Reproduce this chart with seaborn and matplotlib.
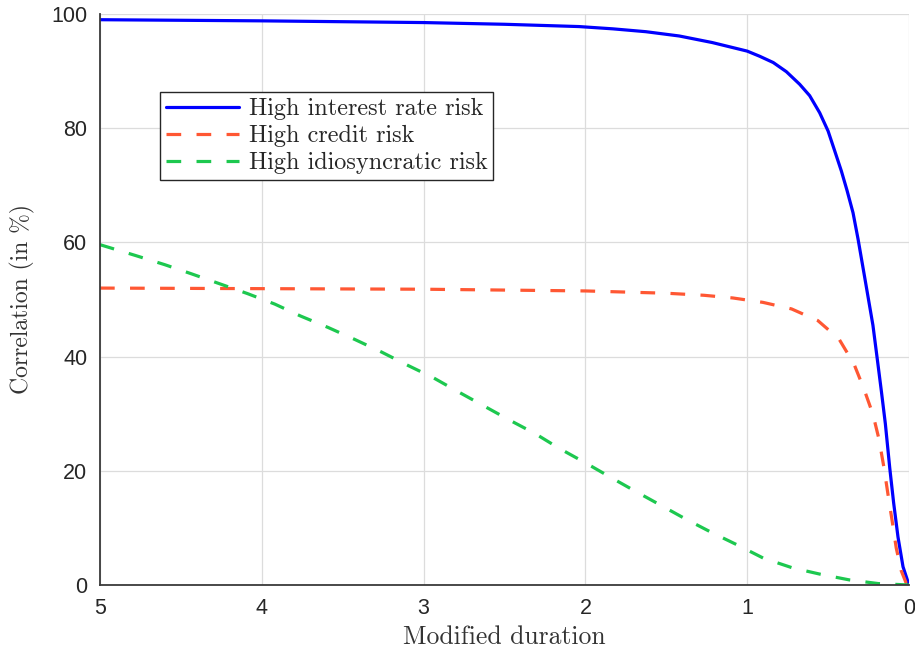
import matplotlib
matplotlib.use("Agg")
import matplotlib.pyplot as plt
import seaborn as sns

# ---- data ----
blue_x = [5, 4, 3, 2.5, 2.04, 1.83, 1.626, 1.42, 1.216, 1.0, 0.923, 0.839, 0.758, 0.676,
          0.614, 0.552, 0.50, 0.46, 0.418, 0.383, 0.346, 0.315, 0.274, 0.223, 0.198,
          0.171, 0.146, 0.119, 0.095, 0.068, 0.037, 0]
blue_y = [99.0, 98.8, 98.5, 98.2, 97.8, 97.4, 96.9, 96.15, 95.0, 93.5, 92.6, 91.5, 89.9, 87.7,
          85.7, 82.7, 79.5, 76.1, 72.5, 69.1, 65.2, 60.6, 53.9, 45.5, 40.0,
          34.0, 28.2, 20.5, 14.4, 8.4, 3.2, 0]

red_x = [5, 4, 3, 2, 1.5, 1.268, 1.089, 0.903, 0.726, 0.563, 0.433, 0.34, 0.278, 0.223,
         0.186, 0.155, 0.13, 0.104, 0.079, 0.048, 0.017, 0]
red_y = [52.0, 51.9, 51.8, 51.5, 51.1, 50.74, 50.27, 49.5, 48.35, 46.3, 43.1, 38.7, 34.3, 29.9,
         25.6, 20.6, 15.9, 11.2, 6.5, 2.5, 0.3, 0]

green_x = [5.0, 4.78, 4.60, 4.435, 4.26, 4.09, 3.92, 3.76, 3.59, 3.425, 3.26, 3.10, 2.94,
           2.79, 2.63, 2.47, 2.31, 2.16, 2.0, 1.85, 1.69, 1.53, 1.38, 1.22, 1.06, 0.9,
           0.72, 0.55, 0.37, 0.19, 0]
green_y = [59.6, 57.7, 56.1, 54.5, 52.75, 51.05, 49.2, 47.1, 45.1, 43.0, 40.8, 38.5, 36.3,
           33.9, 31.4, 28.9, 26.5, 23.9, 21.4, 18.95, 16.4, 13.9, 11.55, 9.2, 7.0, 4.7,
           3.0, 1.9, 0.9, 0.25, 0]

labels = ["High interest rate risk", "High credit risk", "High idiosyncratic risk"]
x_ticks = [0, 1, 2, 3, 4, 5]
y_ticks = [0, 20, 40, 60, 80, 100]

sns.set_style("white")
plt.rcParams["font.family"] = ["Liberation Sans", "DejaVu Sans"]

fig = plt.figure(figsize=(9.15, 6.54), dpi=100)
ax = fig.add_axes([100 / 915, (654 - 585) / 654, 809 / 915, 571 / 654])

lw = 2.3
dash = (0, (4.6, 4.8))
sns.lineplot(x=blue_x, y=blue_y, ax=ax, color="#0000FF", lw=lw, estimator=None,
             label=labels[0], sort=False)
sns.lineplot(x=red_x, y=red_y, ax=ax, color="#FF5733", lw=lw, estimator=None,
             label=labels[1], linestyle=dash, sort=False)
sns.lineplot(x=green_x, y=green_y, ax=ax, color="#1DC84F", lw=lw, estimator=None,
             label=labels[2], linestyle=dash, sort=False)

ax.set_xlim(5, 0)
ax.set_ylim(0, 100)
ax.set_xticks(x_ticks)
ax.set_yticks(y_ticks)
ax.grid(True, color="#dcdcdc", lw=0.9)
ax.set_axisbelow(True)
for s in ["top", "right"]:
    ax.spines[s].set_visible(False)
for s in ["left", "bottom"]:
    ax.spines[s].set_color("#3a3a3a")
    ax.spines[s].set_linewidth(1.3)
ax.tick_params(axis="both", direction="in", length=5, width=1.1, color="#262626",
               labelsize=15.5, labelcolor="#262626", pad=9)

ax.set_xlabel("Modified duration", family="cmr10", fontsize=18.5, color="#333333", labelpad=5)
ax.set_ylabel("Correlation (in %)", family="cmr10", fontsize=17, color="#333333", labelpad=12)

leg = ax.legend(loc="upper left", bbox_to_anchor=(0.074, 0.863), borderaxespad=0,
                prop={"family": "cmr10", "size": 17.5}, frameon=True, fancybox=False,
                handlelength=3.0, handletextpad=0.4, labelspacing=0.2,
                borderpad=0.25, framealpha=1)
leg.get_frame().set_edgecolor("#262626")
leg.get_frame().set_linewidth(1.0)

fig.savefig("out.png", dpi=100)
